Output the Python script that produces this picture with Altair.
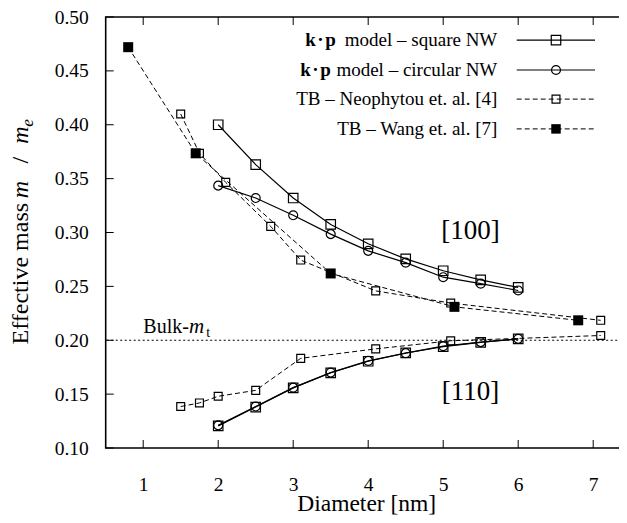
import altair as alt
import pandas as pd

# ---------------- data ----------------
kp_x = [2.0, 2.5, 3.0, 3.5, 4.0, 4.5, 5.0, 5.5, 6.0]
kp_square_100 = [0.400, 0.363, 0.332, 0.3075, 0.2895, 0.2755, 0.2645, 0.2560, 0.2490]
kp_circle_100 = [0.3435, 0.332, 0.316, 0.2985, 0.2830, 0.2720, 0.2585, 0.2525, 0.2462]
kp_square_110 = [0.1205, 0.1380, 0.1558, 0.1698, 0.1805, 0.1882, 0.1940, 0.1980, 0.2012]
kp_circle_110 = [0.1210, 0.1385, 0.1560, 0.1700, 0.1808, 0.1880, 0.1945, 0.1983, 0.2013]

neo_x_100 = [1.5, 1.75, 2.1, 2.7, 3.1, 4.1, 5.1, 7.1]
neo_100 = [0.4100, 0.3735, 0.3465, 0.3057, 0.2744, 0.2458, 0.2345, 0.2185]
neo_x_110 = [1.5, 1.75, 2.0, 2.5, 3.1, 4.1, 5.1, 7.1]
neo_110 = [0.1385, 0.1418, 0.1480, 0.1535, 0.1832, 0.1920, 0.1995, 0.2044]

wang_x = [0.8, 1.7, 3.5, 5.15, 6.8]
wang_100 = [0.472, 0.3735, 0.262, 0.231, 0.2185]

bulk_mt = [0.20]

x_ticks = [1, 2, 3, 4, 5, 6, 7]
y_ticks = [0.10, 0.15, 0.20, 0.25, 0.30, 0.35, 0.40, 0.45, 0.50]

legend_bold = ["k\u200a\u00b7\u200ap", "k\u200a\u00b7\u200ap", "", ""]
legend_text = [" model \u2013 square NW", " model \u2013 circular NW",
               "TB \u2013 Neophytou et. al. [4]", "TB \u2013 Wang et. al. [7]"]

# ---------------- layout / style ----------------
FONT = "'Liberation Serif', 'Times New Roman', 'DejaVu Serif', serif"
W, H = 525, 431

xs = alt.Scale(domain=[0.5, 7.5], nice=False, zero=False)
ys = alt.Scale(domain=[0.10, 0.50], nice=False, zero=False)
xaxis = alt.Axis(values=x_ticks, format="d", title=None, ticks=False, tickSize=0,
                 domain=False, grid=False, labelFont=FONT, labelFontSize=19.5,
                 labelColor="black", labelPadding=27, labelFlush=False, labelOverlap=False)
yaxis = alt.Axis(values=y_ticks, format=".2f", title=None, ticks=False, tickSize=0,
                 domain=False, grid=False, labelFont=FONT, labelFontSize=19.5,
                 labelColor="black", labelPadding=17.4, labelFlush=False, labelOverlap=False)


def X(f):
    return alt.X(f, type="quantitative", scale=xs, axis=xaxis)


def Y(f):
    return alt.Y(f, type="quantitative", scale=ys, axis=yaxis)


def frame(xv, yv, orient):
    return pd.DataFrame({"x": xv, "y": yv, "orient": orient})


kp_sq = pd.concat([frame(kp_x, kp_square_100, "100"), frame(kp_x, kp_square_110, "110")])
kp_ci = pd.concat([frame(kp_x, kp_circle_100, "100"), frame(kp_x, kp_circle_110, "110")])
neo = pd.concat([frame(neo_x_100, neo_100, "100"), frame(neo_x_110, neo_110, "110")])
wang = frame(wang_x, wang_100, "100")

DASH = [5, 3]
layers = []

# bulk line
layers.append(alt.Chart(pd.DataFrame({"y": bulk_mt})).mark_rule(
    color="black", strokeWidth=1, strokeDash=[2, 2.5]).encode(y=Y("y")))

# series
for df, shape, size, filled, dash, lw in [
    (kp_sq, "square", 90, False, None, 1.2),
    (kp_ci, "circle", 80, False, None, 1.2),
    (neo, "square", 62, False, DASH, 1.0),
    (wang, "square", 100, True, DASH, 1.0),
]:
    lk = dict(color="black", strokeWidth=lw)
    if dash:
        lk["strokeDash"] = dash
    layers.append(alt.Chart(df).mark_line(**lk).encode(x=X("x"), y=Y("y"), detail="orient:N"))
    pk = dict(shape=shape, size=size, filled=filled, color="black", opacity=1)
    if not filled:
        pk["strokeWidth"] = 1.2
    layers.append(alt.Chart(df).mark_point(**pk).encode(x=X("x"), y=Y("y")))

# inward ticks (gnuplot style)
xt = pd.DataFrame({"t": x_ticks})
yt = pd.DataFrame({"t": y_ticks})
TL = 8
layers.append(alt.Chart(xt).mark_rule(color="black", strokeWidth=1).encode(
    x=X("t"), y=alt.value(H), y2=alt.value(H - TL)))
layers.append(alt.Chart(xt).mark_rule(color="black", strokeWidth=1).encode(
    x=X("t"), y=alt.value(0), y2=alt.value(TL)))
layers.append(alt.Chart(yt).mark_rule(color="black", strokeWidth=1).encode(
    y=Y("t"), x=alt.value(0), x2=alt.value(TL)))
layers.append(alt.Chart(yt).mark_rule(color="black", strokeWidth=1).encode(
    y=Y("t"), x=alt.value(W - TL), x2=alt.value(W)))


def txt(s, x, y, size, align="left", baseline="alphabetic", style="normal",
        weight="normal", angle=0):
    kw = dict(font=FONT, fontSize=size, align=align, baseline=baseline,
              fontStyle=style, fontWeight=weight, color="black")
    if angle:
        kw["angle"] = angle
    return alt.Chart(pd.DataFrame({"s": [s]})).mark_text(**kw).encode(
        text="s:N", x=alt.value(x), y=alt.value(y))


# custom legend (gnuplot style: text right-aligned, sample on the right)
rows_y = [23.2, 53.0, 82.1, 111.9]
bold_x = [199.5, 194.5]
leg_style = [("square", 90, False, None), ("circle", 80, False, None),
             ("square", 62, False, DASH), ("square", 90, True, DASH)]
one = pd.DataFrame({"a": [0]})
for i, ry in enumerate(rows_y):
    shape, size, filled, dash = leg_style[i]
    rk = dict(color="black", strokeWidth=1.2 if dash is None else 1.0)
    if dash:
        rk["strokeDash"] = dash
    layers.append(alt.Chart(one).mark_rule(**rk).encode(
        x=alt.value(411), x2=alt.value(489.3), y=alt.value(ry)))
    pk = dict(shape=shape, size=size, filled=filled, color="black", opacity=1)
    if not filled:
        pk["strokeWidth"] = 1.2
    layers.append(alt.Chart(one).mark_point(**pk).encode(
        x=alt.value(450.3), y=alt.value(ry)))
    layers.append(txt(legend_text[i], 391.6, ry, 19, align="right", baseline="middle"))
    if legend_bold[i]:
        layers.append(txt(legend_bold[i], bold_x[i], ry, 19, baseline="middle", weight="bold"))

# annotations
layers.append(txt("[100]", 364.7, 213.5, 27, align="center", baseline="middle"))
layers.append(txt("[110]", 364.7, 374.9, 27, align="center", baseline="middle"))
layers.append(txt("Bulk-", 37.6, 315.9, 20))
layers.append(txt("m", 83.4, 315.9, 21, style="italic"))
layers.append(txt("t", 100.5, 319.9, 14))

# axis titles
layers.append(txt("Diameter [nm]", 261, 494, 23.5, align="center"))
BX = -77.4
layers.append(txt("Effective mass", BX, 327.4, 24, angle=270))
layers.append(txt("m", BX, 181.3, 24, style="italic", angle=270))
layers.append(txt("/", BX, 146.5, 24, angle=270))
layers.append(txt("m", BX, 126.7, 24, style="italic", angle=270))
layers.append(txt("e", BX + 5, 109.8, 17, style="italic", angle=270))

chart = alt.layer(*layers).properties(
    width=W, height=H,
    autosize=alt.AutoSizeParams(type="none"),
    padding={"left": 97.7, "top": 9, "right": -11.7, "bottom": 67},
).configure(font=FONT, background="white").configure_view(stroke="black", strokeWidth=1.6)

chart.save("out.html", embed_options={"renderer": "svg", "actions": False})
